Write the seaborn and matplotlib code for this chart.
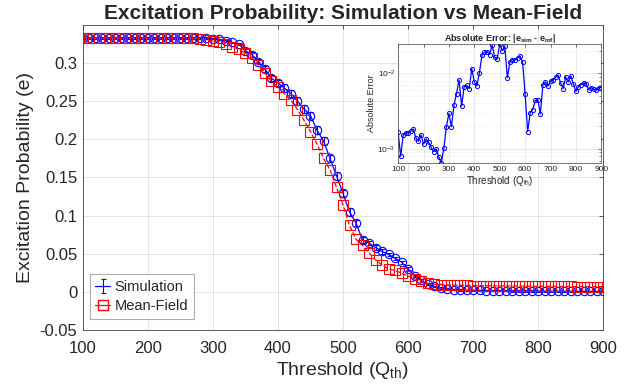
import numpy as np
import pandas as pd
import seaborn as sns
import matplotlib.pyplot as plt
from matplotlib.lines import Line2D
from matplotlib.ticker import FuncFormatter, LogLocator, NullFormatter

# data
thresholds = list(range(100, 901, 10))

e_sim = [0.333] * 20 + [
    0.332, 0.331, 0.329, 0.327, 0.325, 0.316, 0.311, 0.302, 0.292, 0.280,   # 300-390
    0.274, 0.267, 0.260, 0.250, 0.240, 0.231, 0.212, 0.198, 0.175, 0.152,   # 400-490
    0.129, 0.105, 0.090, 0.068, 0.064, 0.058, 0.053, 0.049, 0.044, 0.039,   # 500-590
    0.030, 0.021, 0.015, 0.010, 0.007, 0.005, 0.004, 0.003, 0.0025, 0.002,  # 600-690
    0.002, 0.0018, 0.0016, 0.0015, 0.0014, 0.0013, 0.0012, 0.0011, 0.001, 0.001,  # 700-790
    0.0009, 0.0009, 0.0008, 0.0008, 0.0007, 0.0007, 0.0006, 0.0006, 0.0005, 0.0005,  # 800-890
    0.0005]

sim_err = [0.0008] * 25 + [
    0.002, 0.003, 0.003, 0.004, 0.004, 0.004, 0.005, 0.005, 0.005, 0.005,   # 350-440
    0.005, 0.005, 0.005, 0.005, 0.005, 0.005, 0.005, 0.004, 0.004, 0.003,   # 450-540
    0.003, 0.003, 0.002, 0.002, 0.002, 0.002, 0.0015, 0.0015, 0.001, 0.001,  # 550-640
] + [0.0008] * 26

e_mf = [0.3333] * 18 + [
    0.332, 0.330,                                                            # 280-290
    0.329, 0.328, 0.325, 0.3215, 0.318, 0.313, 0.3065, 0.2975, 0.287, 0.276,  # 300-390
    0.269, 0.260, 0.251, 0.239, 0.225, 0.210, 0.194, 0.175, 0.160, 0.137,   # 400-490
    0.114, 0.087, 0.069, 0.061, 0.051, 0.042, 0.035, 0.030, 0.028, 0.0245,  # 500-590
    0.0206, 0.017, 0.014, 0.011, 0.010, 0.0095, 0.009, 0.0088, 0.0086, 0.0084,  # 600-690
    0.0082, 0.0081, 0.008, 0.0079, 0.0078, 0.0077, 0.0076, 0.0075, 0.0074, 0.0073,  # 700-790
    0.0072, 0.0072, 0.0071, 0.0071, 0.0070, 0.0070, 0.0069, 0.0069, 0.0068, 0.0068,  # 800-890
    0.0068]

abs_err = [
    1.65e-3, 8.0e-4, 1.53e-3, 1.64e-3, 1.62e-3, 1.74e-3, 1.83e-3, 1.40e-3, 1.26e-3, 1.53e-3,  # 100-190
    1.16e-3, 1.35e-3, 1.22e-3, 1.05e-3, 9.2e-4, 1.0e-3, 7.8e-4, 6.5e-4, 1.02e-3, 1.97e-3,     # 200-290
    2.95e-3, 1.97e-3, 3.83e-3, 5.4e-3, 8.2e-3, 3.7e-3, 6.7e-3, 6.95e-3, 6.3e-3, 1.16e-2,      # 300-390
    7.7e-3, 6.8e-3, 1.02e-2, 1.74e-2, 1.91e-2, 1.95e-2, 1.78e-2, 2.36e-2, 1.64e-2, 1.56e-2,   # 400-490
    2.45e-2, 2.0e-2, 2.3e-2, 8.8e-3, 1.42e-2, 1.53e-2, 1.5e-2, 1.6e-2, 1.7e-2, 1.42e-2,      # 500-590
    5.3e-3, 1.7e-3, 3.03e-3, 3.3e-3, 4.4e-3, 4.5e-3, 2.9e-3, 7.1e-3, 7.7e-3, 6.8e-3,         # 600-690
    7.9e-3, 8.1e-3, 9.0e-3, 9.5e-3, 7.4e-3, 6.3e-3, 9.0e-3, 7.7e-3, 9.2e-3, 7.2e-3,          # 700-790
    5.8e-3, 6.7e-3, 7.1e-3, 7.5e-3, 7.3e-3, 6.1e-3, 6.5e-3, 6.2e-3, 6.0e-3, 6.5e-3,          # 800-890
    6.5e-3]

df = pd.DataFrame({"Threshold": thresholds, "Simulation": e_sim,
                   "MeanField": e_mf, "AbsErr": abs_err})

sns.set_theme(style="whitegrid")
plt.rcParams['font.family'] = ['Liberation Sans', 'DejaVu Sans']
plt.rcParams['mathtext.fontset'] = 'custom'
plt.rcParams['mathtext.rm'] = 'Liberation Sans'
plt.rcParams['mathtext.it'] = 'Liberation Sans:italic'
plt.rcParams['mathtext.bf'] = 'Liberation Sans:bold'

spine_c = '#404040'
grid_c = '#dedede'

fig = plt.figure(figsize=(6.37, 3.9), dpi=100)
fig.patch.set_facecolor('white')

# main axes
ax = fig.add_axes([0.130, 0.154, 0.817, 0.782])
sns.lineplot(data=df, x="Threshold", y="Simulation", ax=ax, color='blue', lw=0.9,
             marker='o', ms=6, mfc='none', mec='blue', mew=0.8)
eb = ax.errorbar(df["Threshold"], df["Simulation"], yerr=sim_err, fmt='none',
                 ecolor='blue', elinewidth=0.8, capsize=1.8, capthick=0.8)
sns.lineplot(data=df, x="Threshold", y="MeanField", ax=ax, color='red', lw=0.9,
             ls='--', marker='s', ms=7.5, mfc='none', mec='red', mew=0.8)

ax.set_xlim(100, 900)
ax.set_ylim(-0.05, 0.35)
ax.set_xticks(range(100, 901, 100))
ax.set_yticks(np.arange(-0.05, 0.31, 0.05))
ax.yaxis.set_major_formatter(FuncFormatter(lambda v, p: f'{round(v, 2):g}'))
ax.tick_params(direction='in', length=3, width=0.6, labelsize=12, color=spine_c,
               top=True, right=True)
ax.tick_params(axis='x', pad=8)
ax.tick_params(axis='y', pad=4)
ax.grid(True, color=grid_c, lw=0.6)
for s in ax.spines.values():
    s.set_color(spine_c)
    s.set_linewidth(0.6)
ax.set_xlabel(r'Threshold (Q$_{\mathrm{th}}$)', fontsize=14, labelpad=3)
ax.set_ylabel('Excitation Probability (e)', fontsize=14, labelpad=4)
ax.set_title('Excitation Probability: Simulation vs Mean-Field',
             fontsize=15, fontweight='bold', pad=4)

sim_handle = (Line2D([], [], color='blue', lw=0.9), eb)
mf_handle = Line2D([], [], color='red', lw=0.9, marker='s', ms=7, mfc='none', mec='red')
leg = ax.legend([sim_handle, mf_handle], ['Simulation', 'Mean-Field'],
                loc='lower left', bbox_to_anchor=(0.013, 0.036), borderaxespad=0,
                fontsize=10.5, frameon=True, fancybox=False, handlelength=1.0,
                handletextpad=0.3, borderpad=0.4, labelspacing=0.35)
leg.get_frame().set_edgecolor('#999999')
leg.get_frame().set_linewidth(0.8)

# inset
ax_in = fig.add_axes([0.625, 0.582, 0.319, 0.305])
ax_in.set_facecolor('white')
sns.lineplot(data=df, x="Threshold", y="AbsErr", ax=ax_in, color='blue', lw=0.9,
             marker='o', ms=3, mfc='none', mec='blue', mew=0.7)
ax_in.set_yscale('log')
ax_in.set_xlim(100, 900)
ax_in.set_ylim(min(abs_err), max(abs_err))
ax_in.set_xticks(range(100, 901, 100))
ax_in.yaxis.set_minor_locator(LogLocator(base=10, subs=np.arange(2, 10)))
ax_in.yaxis.set_minor_formatter(NullFormatter())
ax_in.tick_params(which='both', direction='in', labelsize=6, color=spine_c,
                  top=True, right=True, pad=2)
ax_in.tick_params(which='major', length=2.5, width=0.5)
ax_in.tick_params(which='minor', length=1.5, width=0.4)
ax_in.grid(True, which='major', color=grid_c, lw=0.5)
ax_in.grid(True, which='minor', color=grid_c, lw=0.4, ls=':')
for s in ax_in.spines.values():
    s.set_color(spine_c)
    s.set_linewidth(0.5)
ax_in.set_xlabel(r'Threshold (Q$_{\mathrm{th}}$)', fontsize=7, labelpad=1)
ax_in.set_ylabel('Absolute Error', fontsize=6.5, labelpad=1)
ax_in.set_title(r'Absolute Error: |e$_{\mathbf{sim}}$ - e$_{\mathbf{mf}}$|',
                fontsize=6.5, fontweight='bold', pad=2)

fig.savefig('out.png', dpi=100, facecolor='white')
